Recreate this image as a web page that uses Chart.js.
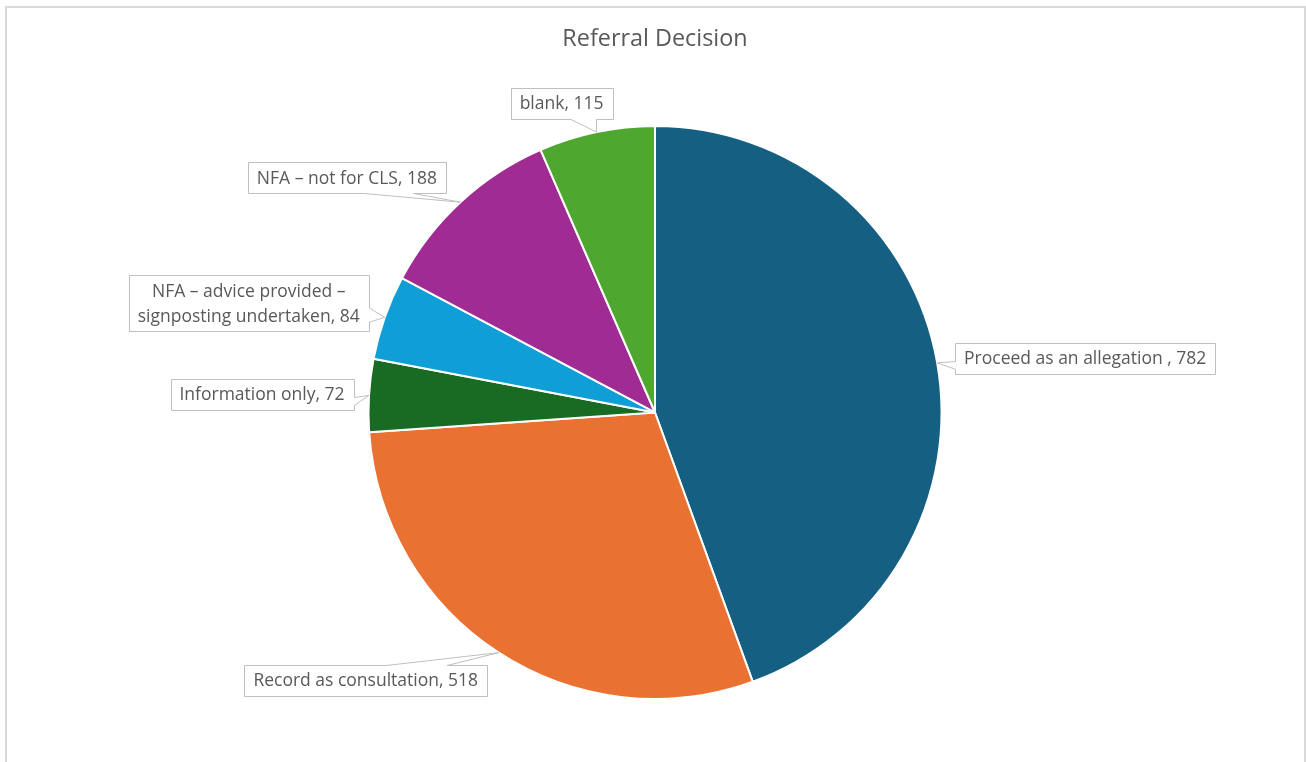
<!DOCTYPE html>
<html>
<head>
<meta charset="utf-8">
<title>Referral Decision</title>
<script src="https://cdn.jsdelivr.net/npm/chart.js@4.4.0/dist/chart.umd.min.js"></script>
<style>
  html, body { margin: 0; padding: 0; background: #fff; overflow: hidden; }
  #frame { position: absolute; left: 5px; top: 6px; width: 1297px; height: 800px; border: 2px solid #d9d9d9; }
  #chart { position: absolute; left: 0; top: 0; }
</style>
</head>
<body>
<div id="frame"></div>
<canvas id="chart" width="1306" height="762"></canvas>
<script>
document.addEventListener('DOMContentLoaded', () => {
    const categories = [
        'Proceed as an allegation ',
        'Record as consultation',
        'Information only',
        'NFA \u2013 advice provided \u2013 signposting undertaken',
        'NFA \u2013 not for CLS',
        'blank'
    ];
    const counts = [782, 518, 72, 84, 188, 115];
    const sliceColours = ['#156082', '#E97132', '#196B24', '#0F9ED5', '#A02B93', '#4EA72E'];

    // where each callout box sits, relative to the point on the slice edge it points at
    const calloutOffsets = [[148, -4.5], [-133, 27.5], [-107, -1.3], [-136, -14], [-113.5, -24.5], [-35, -28.5]];

    const fontFamily = '"Open Sans", "Noto Sans", sans-serif';

    function wrapText(ctx, text, maxWidth) {
        const words = text.split(' ');
        const lines = [];
        let line = '';
        words.forEach(word => {
            const test = line ? line + ' ' + word : word;
            if (line && ctx.measureText(test).width > maxWidth) {
                lines.push(line);
                line = word;
            } else {
                line = test;
            }
        });
        if (line) lines.push(line);
        return lines;
    }

    // data labels drawn as rectangular callouts with a wedge pointing at the slice
    const calloutLabels = {
        id: 'calloutLabels',
        afterDatasetsDraw(chart, args, opts) {
            const ctx = chart.ctx;
            const meta = chart.getDatasetMeta(0);
            const values = chart.data.datasets[0].data;
            ctx.save();
            ctx.font = opts.font;
            ctx.textAlign = 'center';
            ctx.textBaseline = 'middle';
            meta.data.forEach((arc, i) => {
                const { x, y, startAngle, endAngle, outerRadius } =
                    arc.getProps(['x', 'y', 'startAngle', 'endAngle', 'outerRadius'], true);
                const mid = (startAngle + endAngle) / 2;
                const tipX = x + Math.cos(mid) * outerRadius;
                const tipY = y + Math.sin(mid) * outerRadius;

                const text = chart.data.labels[i] + ', ' + values[i];
                const lines = wrapText(ctx, text, opts.maxWidth);
                const textW = Math.max(...lines.map(l => ctx.measureText(l).width));
                const w = Math.round(textW + opts.padX * 2);
                const h = lines.length * opts.lineHeight + opts.padY * 2;
                const [dx, dy] = opts.offsets[i];
                const cx = tipX + dx, cy = tipY + dy;
                const left = Math.round(cx - w / 2) + 0.5, top = Math.round(cy - h / 2) + 0.5;
                const right = left + w, bottom = top + h;

                // pick the edge the wedge leaves from, like a wedge-rect callout
                const rx = tipX - cx, ry = tipY - cy;
                const vertical = Math.abs(ry) > Math.abs(rx * h / w);
                const x1 = left + w * (rx > 0 ? 7 : 2) / 12;
                const x2 = left + w * (rx > 0 ? 10 : 5) / 12;
                const y1 = top + h * (ry > 0 ? 7 : 2) / 12;
                const y2 = top + h * (ry > 0 ? 10 : 5) / 12;

                ctx.beginPath();
                ctx.moveTo(left, top);
                if (vertical && ry < 0) {
                    ctx.lineTo(x1, top); ctx.lineTo(tipX, tipY); ctx.lineTo(x2, top);
                }
                ctx.lineTo(right, top);
                if (!vertical && rx > 0) {
                    ctx.lineTo(right, y1); ctx.lineTo(tipX, tipY); ctx.lineTo(right, y2);
                }
                ctx.lineTo(right, bottom);
                if (vertical && ry > 0) {
                    ctx.lineTo(x2, bottom); ctx.lineTo(tipX, tipY); ctx.lineTo(x1, bottom);
                }
                ctx.lineTo(left, bottom);
                if (!vertical && rx < 0) {
                    ctx.lineTo(left, y2); ctx.lineTo(tipX, tipY); ctx.lineTo(left, y1);
                }
                ctx.closePath();
                ctx.fillStyle = '#ffffff';
                ctx.fill();
                ctx.strokeStyle = opts.borderColor;
                ctx.lineWidth = 1;
                ctx.stroke();

                ctx.fillStyle = opts.color;
                const firstY = cy - (lines.length - 1) * opts.lineHeight / 2;
                lines.forEach((line, k) => {
                    ctx.fillText(line, cx, firstY + k * opts.lineHeight + 1);
                });
            });
            ctx.restore();
        }
    };

    new Chart(document.getElementById('chart'), {
        type: 'pie',
        data: {
            labels: categories,
            datasets: [{
                data: counts,
                backgroundColor: sliceColours,
                borderColor: '#ffffff',
                borderWidth: 2
            }]
        },
        options: {
            responsive: false,
            animation: false,
            devicePixelRatio: 1,
            layout: {
                padding: { left: 367, right: 363, top: 0, bottom: 62 }
            },
            plugins: {
                legend: { display: false },
                tooltip: { enabled: false },
                title: {
                    display: true,
                    text: 'Referral Decision',
                    color: '#595959',
                    font: { family: fontFamily, size: 23.4, weight: 'normal' },
                    padding: { top: 25, bottom: 71.9 }
                },
                calloutLabels: {
                    offsets: calloutOffsets,
                    font: '17.5px ' + fontFamily,
                    color: '#595959',
                    borderColor: '#bfbfbf',
                    maxWidth: 265,
                    padX: 9,
                    padY: 3,
                    lineHeight: 25
                }
            }
        },
        plugins: [calloutLabels]
    });
});
</script>
</body>
</html>
